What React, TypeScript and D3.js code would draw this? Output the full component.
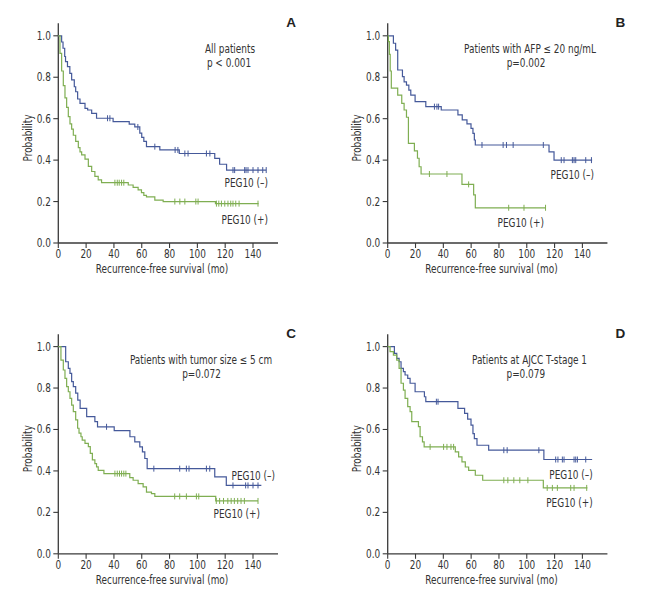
import React from "react";
import * as d3 from "d3";

const xTicks = [0, 20, 40, 60, 80, 100, 120, 140];
const yTicks = [0, 0.2, 0.4, 0.6, 0.8, 1.0];

// Panel A – All patients
const aNegT = [2.4, 3.4, 4.6, 5.2, 6.6, 8.3, 9.6, 11.5, 12.5, 13.9, 15.6, 19.2, 21.1, 24, 27.5, 39.4, 51, 55, 58.6, 60, 61.5, 63.4, 73, 87, 112.5, 116, 121];
const aNegS = [0.97, 0.94, 0.9, 0.875, 0.851, 0.819, 0.787, 0.754, 0.73, 0.695, 0.674, 0.65, 0.642, 0.626, 0.602, 0.586, 0.574, 0.56, 0.53, 0.51, 0.49, 0.465, 0.449, 0.432, 0.408, 0.38, 0.352];
const aNegC = [35.4, 37.1, 57.2, 69.4, 84, 86, 91, 93.3, 106.5, 109, 125.6, 126.8, 134, 135, 136.4, 140, 143.6, 147, 149.5];
const aNegEnd = 149.5;
const aPosT = [1.2, 2.4, 3.6, 4.8, 6, 7.2, 8.4, 9.6, 10.8, 12.5, 14.4, 15.6, 16.8, 19.2, 21.6, 24, 26.3, 28.7, 31.1, 50.3, 53.8, 57.4, 59.8, 61.5, 63.4, 69.4, 75.4, 113];
const aPosS = [0.915, 0.83, 0.76, 0.7, 0.655, 0.61, 0.575, 0.55, 0.52, 0.49, 0.46, 0.44, 0.425, 0.405, 0.37, 0.345, 0.322, 0.305, 0.291, 0.28, 0.268, 0.256, 0.243, 0.23, 0.223, 0.207, 0.2, 0.19];
const aPosC = [40.7, 42.4, 43.8, 45.5, 47.1, 83.8, 87.4, 91, 98.9, 100.5, 113.7, 115.4, 117.3, 119.7, 122, 124, 125.6, 127.6, 130, 143.6];
const aPosEnd = 144;

// Panel B – AFP <= 20
const bNegT = [4.1, 5.7, 7.2, 10.6, 11.8, 13.5, 15.2, 16.6, 19.7, 27.4, 38.5, 50.5, 53.6, 57, 59.9, 61.3, 62.3, 63, 116, 119.6];
const bNegS = [0.964, 0.931, 0.835, 0.803, 0.778, 0.762, 0.738, 0.714, 0.682, 0.658, 0.642, 0.618, 0.594, 0.575, 0.553, 0.529, 0.497, 0.473, 0.44, 0.4];
const bNegC = [33.6, 35.4, 36.6, 67.8, 83, 85.4, 90.2, 111.9, 124.8, 126.8, 132.8, 134, 135.2, 142.4, 146.5];
const bNegEnd = 147;
const bPosT = [0.5, 1.2, 1.8, 2.6, 7.2, 10.1, 11.8, 13.5, 14.9, 19.2, 21.4, 22.6, 24, 53.4, 61.8, 63];
const bPosS = [0.972, 0.91, 0.83, 0.747, 0.714, 0.674, 0.642, 0.607, 0.481, 0.445, 0.409, 0.368, 0.333, 0.283, 0.232, 0.17];
const bPosC = [30, 42.6, 58.2, 87, 98, 113.5];
const bPosEnd = 113.5;

// Panel C – tumor size <= 5 cm
const cNegT = [5.3, 7.2, 8.4, 9.6, 10.8, 12.5, 14, 15.7, 20.4, 26.3, 28.2, 40.2, 51.5, 55, 58.6, 60.5, 62.2, 63.9, 112.5, 120.8];
const cNegS = [0.927, 0.895, 0.871, 0.831, 0.807, 0.775, 0.742, 0.702, 0.662, 0.638, 0.613, 0.594, 0.565, 0.54, 0.516, 0.492, 0.46, 0.411, 0.371, 0.33];
const cNegC = [34.7, 68.7, 87.3, 92.1, 94, 106.5, 108.9, 125.6, 134.7, 136.4, 140, 143.6];
const cNegEnd = 146;
const cPosT = [1.9, 3.6, 4.8, 6, 7.2, 8.4, 9.6, 10.8, 12.5, 13.9, 14.9, 16.3, 17.2, 19.2, 21.6, 23, 24.5, 26.3, 27.5, 28.7, 32.8, 51.4, 53.8, 57.4, 61, 63.4, 67, 69.4, 113.2];
const cPosS = [0.935, 0.887, 0.847, 0.807, 0.782, 0.75, 0.718, 0.686, 0.646, 0.606, 0.582, 0.565, 0.549, 0.533, 0.517, 0.485, 0.453, 0.435, 0.42, 0.403, 0.387, 0.368, 0.355, 0.339, 0.323, 0.298, 0.29, 0.277, 0.255];
const cPosC = [40.7, 42.4, 44, 45.5, 47.1, 48.6, 83.7, 87.3, 92.1, 99.3, 101, 113.6, 116, 118.8, 121.9, 124.3, 126.6, 129, 131.4, 133.8, 143.6];
const cPosEnd = 143.6;

// Panel D – AJCC T-stage 1
const dNegT = [4.8, 6.5, 8.2, 9.6, 11.3, 12.5, 14.4, 16.1, 19.7, 26.4, 27.4, 50.5, 55.3, 57.5, 59.9, 61.3, 62.3, 64.2, 72.6, 112.3];
const dNegS = [0.967, 0.943, 0.927, 0.895, 0.879, 0.863, 0.847, 0.823, 0.782, 0.758, 0.734, 0.702, 0.678, 0.65, 0.621, 0.58, 0.556, 0.524, 0.5, 0.455];
const dNegC = [35, 36.2, 83.5, 85.9, 108.7, 120.8, 122.4, 125.6, 126.8, 134, 135.2, 136.4, 142.4];
const dNegEnd = 147;
const dPosT = [1.7, 4.1, 6.5, 8.2, 9.6, 11.3, 12.5, 14.4, 16.1, 17.3, 22.1, 23.3, 25, 26.2, 48.6, 51, 53.4, 55.8, 58.2, 63, 68.3, 111.9];
const dPosS = [0.976, 0.959, 0.935, 0.895, 0.823, 0.79, 0.75, 0.71, 0.686, 0.638, 0.614, 0.565, 0.54, 0.516, 0.492, 0.468, 0.444, 0.419, 0.403, 0.379, 0.355, 0.318];
const dPosC = [30.5, 40.2, 42.6, 45.5, 47.4, 83.5, 86.4, 90.7, 95, 100.8, 114.7, 118.4, 122, 131.6, 134, 143.1];
const dPosEnd = 143.6;

const BLUE = "#45599a";
const GREEN = "#7fae52";
const AXIS = "#3a3a3a";
const TEXT = "#333333";
const FONT = "'DejaVu Sans Condensed', 'DejaVu Sans', sans-serif";
const FS = 11.8;
const SX = 0.84;

type Curve = { t: number[]; s: number[]; c: number[]; end: number; color: string };

type PanelProps = {
  ox: number;
  oy: number;
  letter: string;
  title: string;
  pval: string;
  titleX: number;
  pX: number;
  negEnd: number;
  negY: number;
  posEnd: number;
  posY: number;
  curves: Curve[];
};

const x = d3.scaleLinear().domain([0, 140]).range([58.3, 253]);
const y = d3.scaleLinear().domain([0, 1]).range([243, 35.8]);

function stepPath(cv: Curve): string {
  const p = d3.path();
  p.moveTo(x(0), y(1));
  let cur = 1;
  cv.t.forEach((t, i) => {
    p.lineTo(x(t), y(cur));
    cur = cv.s[i];
    p.lineTo(x(t), y(cur));
  });
  p.lineTo(x(cv.end), y(cur));
  return p.toString();
}

function survAt(cv: Curve, time: number): number {
  let v = 1;
  cv.t.forEach((t, i) => {
    if (t <= time) v = cv.s[i];
  });
  return v;
}

function T(props: { x: number; y: number; anchor?: string; rotate?: number; children: React.ReactNode; size?: number }) {
  const rot = props.rotate ? ` rotate(${props.rotate})` : "";
  return (
    <text
      transform={`translate(${props.x},${props.y})${rot} scale(${SX},1)`}
      fontSize={props.size ?? FS}
      textAnchor={props.anchor ?? "start"}
    >
      {props.children}
    </text>
  );
}

function Panel(props: PanelProps) {
  const { ox, oy, curves } = props;
  return (
    <g transform={`translate(${ox},${oy})`} fontFamily={FONT} fill={TEXT}>
      <line x1={x(0)} x2={x(0)} y1={y(1.06)} y2={y(0)} stroke={AXIS} strokeWidth={1.3} />
      <line x1={x(0)} x2={x(158)} y1={y(0)} y2={y(0)} stroke={AXIS} strokeWidth={1.3} />
      {yTicks.map((v) => (
        <g key={"y" + v}>
          <line x1={x(0) - 5} x2={x(0)} y1={y(v)} y2={y(v)} stroke={AXIS} strokeWidth={1.1} />
          <T x={x(0) - 7.5} y={y(v) + 4} anchor="end">
            {v.toFixed(1)}
          </T>
        </g>
      ))}
      {xTicks.map((v) => (
        <g key={"x" + v}>
          <line x1={x(v)} x2={x(v)} y1={y(0)} y2={y(0) + 5} stroke={AXIS} strokeWidth={1.1} />
          <T x={x(v)} y={y(0) + 14.8} anchor="middle">
            {String(v)}
          </T>
        </g>
      ))}
      <T x={32} y={138} rotate={-90} anchor="middle">
        Probability
      </T>
      <T x={162} y={273} anchor="middle">
        Recurrence-free survival (mo)
      </T>
      {curves.map((cv, i) => (
        <g key={"c" + i}>
          <path d={stepPath(cv)} fill="none" stroke={cv.color} strokeWidth={1.2} />
          {cv.c.map((ct, j) => {
            const yy = y(survAt(cv, ct));
            return (
              <line key={j} x1={x(ct)} x2={x(ct)} y1={yy - 3} y2={yy + 3} stroke={cv.color} strokeWidth={1} />
            );
          })}
        </g>
      ))}
      <T x={props.titleX} y={53} anchor="middle">
        {props.title}
      </T>
      <T x={props.pX} y={67} anchor="middle">
        {props.pval}
      </T>
      <T x={props.negEnd} y={props.negY} anchor="end">
        PEG10 (–)
      </T>
      <T x={props.posEnd} y={props.posY} anchor="end">
        PEG10 (+)
      </T>
      <text x={291} y={27} fontSize={13.5} fontWeight="bold" textAnchor="middle" fontFamily="'Liberation Sans', Arial, sans-serif" fill="#222">
        {props.letter}
      </text>
    </g>
  );
}

export default function App() {
  const DX = 329.4;
  const DY = 310.8;
  return (
    <svg width={649} height={594} style={{ position: "absolute", left: 0, top: 0, background: "#fff" }}>
      <rect width={649} height={594} fill="#fff" />
      <Panel
        ox={0}
        oy={0}
        letter="A"
        title="All patients"
        pval="p < 0.001"
        titleX={230}
        pX={229}
        negEnd={268}
        negY={187.3}
        posEnd={268}
        posY={224.3}
        curves={[
          { t: aNegT, s: aNegS, c: aNegC, end: aNegEnd, color: BLUE },
          { t: aPosT, s: aPosS, c: aPosC, end: aPosEnd, color: GREEN },
        ]}
      />
      <Panel
        ox={DX}
        oy={0}
        letter="B"
        title="Patients with AFP ≤ 20 ng/mL"
        pval="p=0.002"
        titleX={200.6}
        pX={196.6}
        negEnd={264.6}
        negY={179.3}
        posEnd={214.6}
        posY={226.8}
        curves={[
          { t: bNegT, s: bNegS, c: bNegC, end: bNegEnd, color: BLUE },
          { t: bPosT, s: bPosS, c: bPosC, end: bPosEnd, color: GREEN },
        ]}
      />
      <Panel
        ox={0}
        oy={DY}
        letter="C"
        title="Patients with tumor size ≤ 5 cm"
        pval="p=0.072"
        titleX={201}
        pX={201.5}
        negEnd={275}
        negY={169.3}
        posEnd={260}
        posY={207.5}
        curves={[
          { t: cNegT, s: cNegS, c: cNegC, end: cNegEnd, color: BLUE },
          { t: cPosT, s: cPosS, c: cPosC, end: cPosEnd, color: GREEN },
        ]}
      />
      <Panel
        ox={DX}
        oy={DY}
        letter="D"
        title="Patients at AJCC T-stage 1"
        pval="p=0.079"
        titleX={200.1}
        pX={196.4}
        negEnd={263.3}
        negY={168.5}
        posEnd={263.3}
        posY={196.3}
        curves={[
          { t: dNegT, s: dNegS, c: dNegC, end: dNegEnd, color: BLUE },
          { t: dPosT, s: dPosS, c: dPosC, end: dPosEnd, color: GREEN },
        ]}
      />
    </svg>
  );
}
